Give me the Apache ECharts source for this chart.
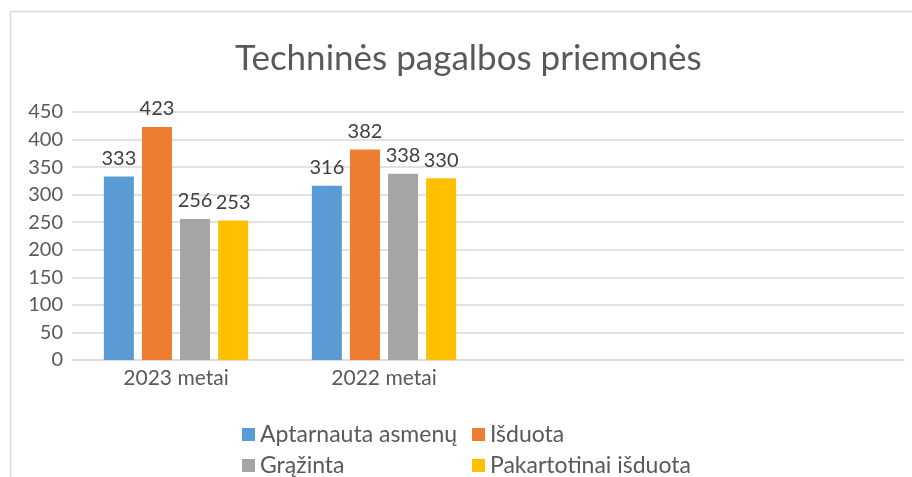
<!DOCTYPE html>
<html>
<head>
<meta charset="utf-8">
<script src="https://cdn.jsdelivr.net/npm/echarts@6/dist/echarts.min.js"></script>
<style>
  html, body { margin: 0; padding: 0; background: #fff; }
  #chart { width: 912px; height: 477px; }
</style>
</head>
<body>
<div id="chart"></div>
<script>
// kategorijos (dvi tuščios vietos kaip originale)
var categories = ['2023 metai', '2022 metai', '', ''];
var aptarnauta = [333, 316, null, null];
var isduota = [423, 382, null, null];
var grazinta = [256, 338, null, null];
var pakartotinai = [253, 330, null, null];
var seriesNames = ['Aptarnauta asmenų', 'Išduota', 'Grąžinta', 'Pakartotinai išduota'];
var colors = ['#5B9BD5', '#ED7D31', '#A5A5A5', '#FFC000'];

var myChart = echarts.init(document.getElementById('chart'));

function makeSeries(name, data, color) {
  return {
    name: name,
    type: 'bar',
    data: data,
    barWidth: 30,
    barGap: '27%',
    itemStyle: { color: color },
    label: {
      show: true,
      position: 'top',
      distance: 8,
      fontFamily: 'Lato',
      fontSize: 20,
      color: '#404040'
    }
  };
}

// viena legenda kiekvienam įrašui - 2x2 išdėstymas
function makeLegend(name, left, top) {
  return {
    data: [name],
    left: left,
    top: top,
    itemWidth: 13,
    itemHeight: 13,
    icon: 'rect',
    textStyle: { fontFamily: 'Lato', fontSize: 23, color: '#595959' }
  };
}

var option = {
  backgroundColor: '#fff',
  animation: false,
  graphic: [{
    type: 'rect',
    shape: { x: 10.5, y: 11.5, width: 960, height: 520 },
    style: { fill: 'none', stroke: '#d9d9d9', lineWidth: 1.5 },
    silent: true
  }],
  title: {
    text: 'Techninės pagalbos priemonės',
    left: 230,
    top: 36,
    textStyle: {
      fontFamily: 'Lato',
      fontSize: 35,
      fontWeight: 'normal',
      color: '#595959'
    }
  },
  legend: [
    makeLegend(seriesNames[0], 237, 418),
    makeLegend(seriesNames[1], 467, 418),
    makeLegend(seriesNames[2], 237, 449),
    makeLegend(seriesNames[3], 467, 449)
  ],
  grid: {
    left: 72,
    right: 8,
    top: 112,
    bottom: 117
  },
  xAxis: {
    type: 'category',
    data: categories,
    axisLine: { lineStyle: { color: '#d9d9d9', width: 1.5 } },
    axisTick: { show: false },
    axisLabel: {
      fontFamily: 'Lato',
      fontSize: 21,
      color: '#595959',
      margin: 8
    }
  },
  yAxis: {
    type: 'value',
    min: 0,
    max: 450,
    interval: 50,
    axisLine: { show: false },
    axisTick: { show: false },
    splitLine: { lineStyle: { color: '#d9d9d9', width: 1.5 } },
    axisLabel: {
      fontFamily: 'Lato',
      fontSize: 20,
      color: '#595959',
      margin: 9
    }
  },
  series: [
    makeSeries(seriesNames[0], aptarnauta, colors[0]),
    makeSeries(seriesNames[1], isduota, colors[1]),
    makeSeries(seriesNames[2], grazinta, colors[2]),
    makeSeries(seriesNames[3], pakartotinai, colors[3])
  ]
};

myChart.setOption(option);
</script>
</body>
</html>
